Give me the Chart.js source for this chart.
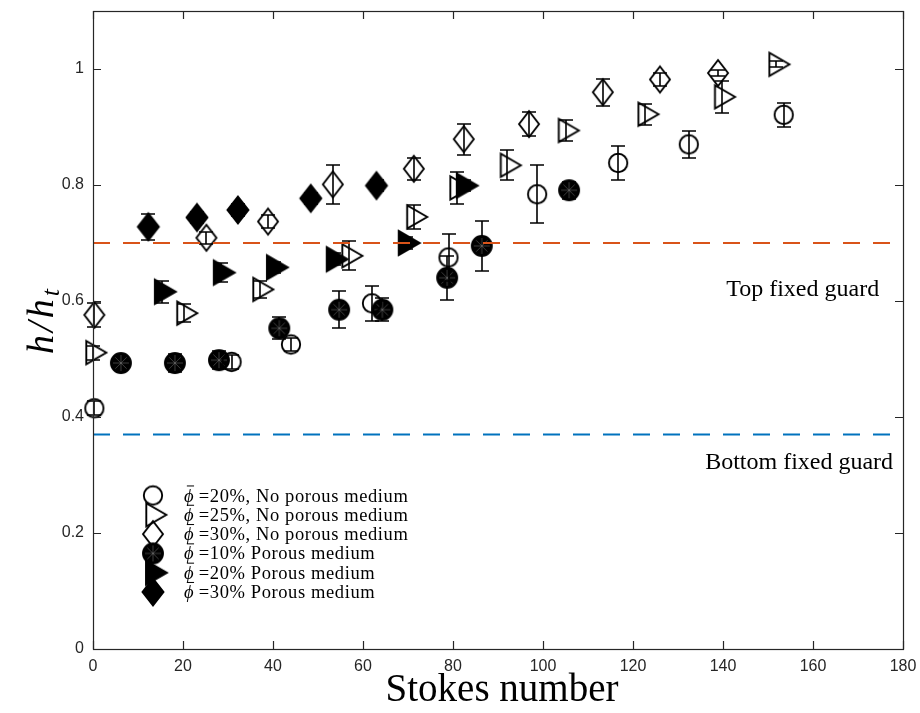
<!DOCTYPE html>
<html>
<head>
<meta charset="utf-8">
<title>h/ht against Stokes number</title>
<script src="https://cdn.jsdelivr.net/npm/chart.js"></script>
<style>
  html, body { margin: 0; padding: 0; background: #fff; }
  #wrap { width: 920px; height: 713px; }
</style>
</head>
<body>
<div id="wrap"><canvas id="stokesChart" width="920" height="713"></canvas></div>
<script>
// ---- data ----
var xTickValues = [0, 20, 40, 60, 80, 100, 120, 140, 160, 180]
var yTickValues = [0, 0.2, 0.4, 0.6, 0.8, 1]

var seriesLabels = [
  'ϕ̄ =20%, No porous medium',
  'ϕ̄ =25%, No porous medium',
  'ϕ̄ =30%, No porous medium',
  'ϕ̄ =10% Porous medium',
  'ϕ̄ =20% Porous medium',
  'ϕ̄ =30% Porous medium'
]

// phi = 20%, no porous medium (open circles)
var ocX = [0.3, 30.8, 44, 62, 79, 98.7, 116.7, 132.4, 153.5]
var ocY = [0.415, 0.495, 0.525, 0.596, 0.675, 0.784, 0.838, 0.870, 0.921]
var ocErr = [0.012, 0.012, 0.012, 0.030, 0.041, 0.050, 0.029, 0.023, 0.021]

// phi = 25%, no porous medium (open triangles)
var otX = [0, 20.2, 37.1, 56.9, 71.3, 80.9, 92.1, 105.0, 122.7, 139.7, 151.8]
var otY = [0.511, 0.579, 0.620, 0.678, 0.745, 0.795, 0.834, 0.894, 0.922, 0.952, 1.008]
var otErr = [0.012, 0.015, 0.015, 0.025, 0.021, 0.028, 0.026, 0.018, 0.018, 0.028, 0.005]

// phi = 30%, no porous medium (open diamonds)
var odX = [0.3, 25.2, 38.9, 53.3, 71.3, 82.4, 96.9, 113.3, 126, 138.9]
var odY = [0.576, 0.709, 0.737, 0.801, 0.828, 0.879, 0.905, 0.960, 0.982, 0.993]
var odErr = [0.020, 0.010, 0.011, 0.033, 0.019, 0.027, 0.021, 0.023, 0.011, 0.005]

// phi = 10%, porous medium (filled circles)
var fcX = [6.2, 18.2, 28, 41.4, 54.7, 64.3, 78.7, 86.4, 105.8]
var fcY = [0.493, 0.493, 0.498, 0.553, 0.585, 0.585, 0.640, 0.695, 0.791]
var fcErr = [0.008, 0.015, 0.015, 0.019, 0.032, 0.020, 0.038, 0.043, 0.015]

// phi = 20%, porous medium (filled triangles)
var ftX = [15.3, 28.4, 40.2, 53.5, 69.5, 82.4]
var ftY = [0.616, 0.649, 0.658, 0.672, 0.700, 0.799]
var ftErr = [0.019, 0.017, 0.010, 0.010, 0.010, 0.010]

// phi = 30%, porous medium (filled diamonds)
var fdX = [12.3, 23.1, 32.2, 48.4, 63]
var fdY = [0.728, 0.744, 0.757, 0.777, 0.799]
var fdErr = [0.022, 0.010, 0.010, 0.010, 0.010]

// fixed guard heights
var topGuard = 0.7
var bottomGuard = 0.37

// ---- helpers ----
function toPoints(xs, ys) {
  return xs.map(function (x, i) { return { x: x, y: ys[i] } })
}

// Build a marker image so the shapes look like the matlab ones
function makeMarker(kind) {
  var c = document.createElement('canvas')
  c.width = 34
  c.height = 34
  var g = c.getContext('2d')
  var cx = 17, cy = 17
  var filled = kind.indexOf('Fill') > 0
  g.lineWidth = 1.9
  g.strokeStyle = '#000'
  g.fillStyle = '#000'
  g.lineJoin = 'miter'
  g.beginPath()
  if (kind.indexOf('circle') === 0) {
    g.arc(cx, cy, filled ? 10 : 9.2, 0, Math.PI * 2)
  } else if (kind.indexOf('tri') === 0) {
    var r = filled ? 14 : 13.4
    g.moveTo(cx + r, cy)
    g.lineTo(cx - r / 2, cy - r * 0.866)
    g.lineTo(cx - r / 2, cy + r * 0.866)
    g.closePath()
  } else {
    var w = filled ? 10.5 : 10, h = filled ? 13.5 : 13
    g.moveTo(cx, cy - h)
    g.lineTo(cx + w, cy)
    g.lineTo(cx, cy + h)
    g.lineTo(cx - w, cy)
    g.closePath()
  }
  if (filled) g.fill()
  g.stroke()

  // faint spokes on the filled circle
  if (kind === 'circleFill') {
    g.strokeStyle = 'rgba(150,150,150,0.7)'
    g.lineWidth = 0.6
    for (var k = 0; k < 8; k++) {
      var a = k * Math.PI / 4
      g.beginPath()
      g.moveTo(cx, cy)
      g.lineTo(cx + Math.cos(a) * 8, cy + Math.sin(a) * 8)
      g.stroke()
    }
  }
  return c
}

var markers = [
  makeMarker('circle'),
  makeMarker('tri'),
  makeMarker('diamond'),
  makeMarker('circleFill'),
  makeMarker('triFill'),
  makeMarker('diamondFill')
]

function markerSet(label, xs, ys, errs, marker) {
  return {
    label: label,
    data: toPoints(xs, ys),
    errors: errs,
    pointStyle: marker,
    pointRadius: 10,
    showLine: false,
    clip: false,
    order: 1
  }
}

function guardLine(value, color) {
  return {
    type: 'line',
    data: [{ x: 0, y: value }, { x: 180, y: value }],
    borderColor: color,
    borderWidth: 2,
    borderDash: [17, 13],
    pointRadius: 0,
    fill: false,
    order: 0
  }
}

// ---- plugin: error bars, box, inward ticks, legend and texts ----
var axisColor = '#262626'
var serif = '"Liberation Serif", "Times New Roman", serif'

// draws phi with a bar over it, returns the width used
function drawPhiBar(ctx, x, y, size) {
  ctx.font = 'italic ' + size + 'px ' + serif
  var w = ctx.measureText('ϕ').width
  ctx.fillText('ϕ', x, y)
  ctx.save()
  ctx.lineWidth = 1
  ctx.strokeStyle = '#000'
  ctx.beginPath()
  ctx.moveTo(x + w * 0.3, y - size * 0.84)
  ctx.lineTo(x + w * 1.05, y - size * 0.84)
  ctx.stroke()
  ctx.restore()
  return w
}

var figurePlugin = {
  id: 'figurePlugin',
  beforeDatasetDraw: function (chart, args) {
    var ds = chart.data.datasets[args.index]
    if (!ds.errors) return
    var yScale = chart.scales.y
    var ctx = chart.ctx
    ctx.save()
    ctx.strokeStyle = '#000'
    ctx.lineWidth = 1.6
    args.meta.data.forEach(function (pt, i) {
      var v = ds.data[i].y
      var e = ds.errors[i]
      var px = Math.round(pt.x)
      var top = Math.round(yScale.getPixelForValue(v + e))
      var bot = Math.round(yScale.getPixelForValue(v - e))
      ctx.beginPath()
      ctx.moveTo(px, top)
      ctx.lineTo(px, bot)
      ctx.moveTo(px - 7, top)
      ctx.lineTo(px + 7, top)
      ctx.moveTo(px - 7, bot)
      ctx.lineTo(px + 7, bot)
      ctx.stroke()
    })
    ctx.restore()
  },
  afterDraw: function (chart) {
    var ctx = chart.ctx
    var a = chart.chartArea
    var xs = chart.scales.x
    var ys = chart.scales.y
    ctx.save()

    // axes box
    ctx.strokeStyle = axisColor
    ctx.lineWidth = 1.2
    ctx.strokeRect(Math.round(a.left) + 0.5, Math.round(a.top) + 0.5,
      Math.round(a.right - a.left), Math.round(a.bottom - a.top))

    // inward ticks on all four sides
    ctx.beginPath()
    xTickValues.forEach(function (v) {
      var px = Math.round(xs.getPixelForValue(v)) + 0.5
      ctx.moveTo(px, a.bottom)
      ctx.lineTo(px, a.bottom - 8)
      ctx.moveTo(px, a.top)
      ctx.lineTo(px, a.top + 8)
    })
    yTickValues.forEach(function (v) {
      var py = Math.round(ys.getPixelForValue(v)) + 0.5
      ctx.moveTo(a.left, py)
      ctx.lineTo(a.left + 8, py)
      ctx.moveTo(a.right, py)
      ctx.lineTo(a.right - 8, py)
    })
    ctx.stroke()

    // guard annotations
    ctx.fillStyle = '#000'
    ctx.font = '24px ' + serif
    ctx.textAlign = 'right'
    ctx.textBaseline = 'alphabetic'
    ctx.fillText('Top fixed guard', xs.getPixelForValue(174.7), ys.getPixelForValue(0.608))
    ctx.fillText('Bottom fixed guard', xs.getPixelForValue(177.8), ys.getPixelForValue(0.311))

    // legend (no box)
    ctx.textAlign = 'left'
    ctx.textBaseline = 'alphabetic'
    seriesLabels.forEach(function (label, i) {
      var rowY = 495.5 + i * 19.3
      var img = markers[i]
      ctx.drawImage(img, 153 - img.width / 2, rowY - img.height / 2)
      var base = rowY + 6
      var w = drawPhiBar(ctx, 184, base, 18.5)
      ctx.font = '18.5px ' + serif
      ctx.letterSpacing = '0.6px'
      ctx.fillText(label.slice(2), 184 + w, base)
      ctx.letterSpacing = '0px'
    })

    // x axis title
    ctx.textAlign = 'center'
    ctx.font = '39px ' + serif
    ctx.fillText('Stokes number', (a.left + a.right) / 2 + 4, 701)

    // y axis title h/h_t (rotated)
    ctx.translate(45, 320)
    ctx.rotate(-Math.PI / 2)
    ctx.letterSpacing = '3px'
    ctx.font = 'italic 38px ' + serif
    var mainW = ctx.measureText('h/h').width
    ctx.font = 'italic 26px ' + serif
    var subW = ctx.measureText('t').width
    var start = -(mainW + subW) / 2
    ctx.textAlign = 'left'
    ctx.font = 'italic 38px ' + serif
    ctx.fillText('h/h', start, 8)
    ctx.font = 'italic 26px ' + serif
    ctx.fillText('t', start + mainW, 14)
    ctx.letterSpacing = '0px'

    ctx.restore()
  }
}

// ---- chart ----
var ctx = document.getElementById('stokesChart').getContext('2d')
var chart = new Chart(ctx, {
  type: 'scatter',
  data: {
    datasets: [
      markerSet(seriesLabels[0], ocX, ocY, ocErr, markers[0]),
      markerSet(seriesLabels[1], otX, otY, otErr, markers[1]),
      markerSet(seriesLabels[2], odX, odY, odErr, markers[2]),
      markerSet(seriesLabels[3], fcX, fcY, fcErr, markers[3]),
      markerSet(seriesLabels[4], ftX, ftY, ftErr, markers[4]),
      markerSet(seriesLabels[5], fdX, fdY, fdErr, markers[5]),
      guardLine(topGuard, '#D95319'),
      guardLine(bottomGuard, '#0072BD')
    ]
  },
  options: {
    responsive: false,
    animation: false,
    events: [],
    layout: { padding: { top: 9, right: 17, left: 0, bottom: 0 } },
    plugins: {
      legend: { display: false },
      tooltip: { enabled: false }
    },
    scales: {
      x: {
        type: 'linear',
        min: 0,
        max: 180,
        grid: { display: false, drawTicks: false },
        border: { display: false },
        ticks: {
          stepSize: 20,
          padding: 8,
          color: axisColor,
          font: { family: '"Liberation Sans", Arial, sans-serif', size: 16 },
          maxRotation: 0
        },
        afterFit: function (scale) {
          scale.height = 64
          scale.paddingLeft = 0
          scale.paddingRight = 0
        }
      },
      y: {
        type: 'linear',
        min: 0,
        max: 1.1,
        grid: { display: false, drawTicks: false },
        border: { display: false },
        ticks: {
          stepSize: 0.2,
          includeBounds: false,
          padding: 9,
          color: axisColor,
          font: { family: '"Liberation Sans", Arial, sans-serif', size: 16 },
          callback: function (value) {
            return Math.round(value * 10) / 10
          }
        },
        afterFit: function (scale) {
          scale.width = 93
          scale.paddingTop = 0
          scale.paddingBottom = 0
        }
      }
    }
  },
  plugins: [figurePlugin]
})
</script>
</body>
</html>
